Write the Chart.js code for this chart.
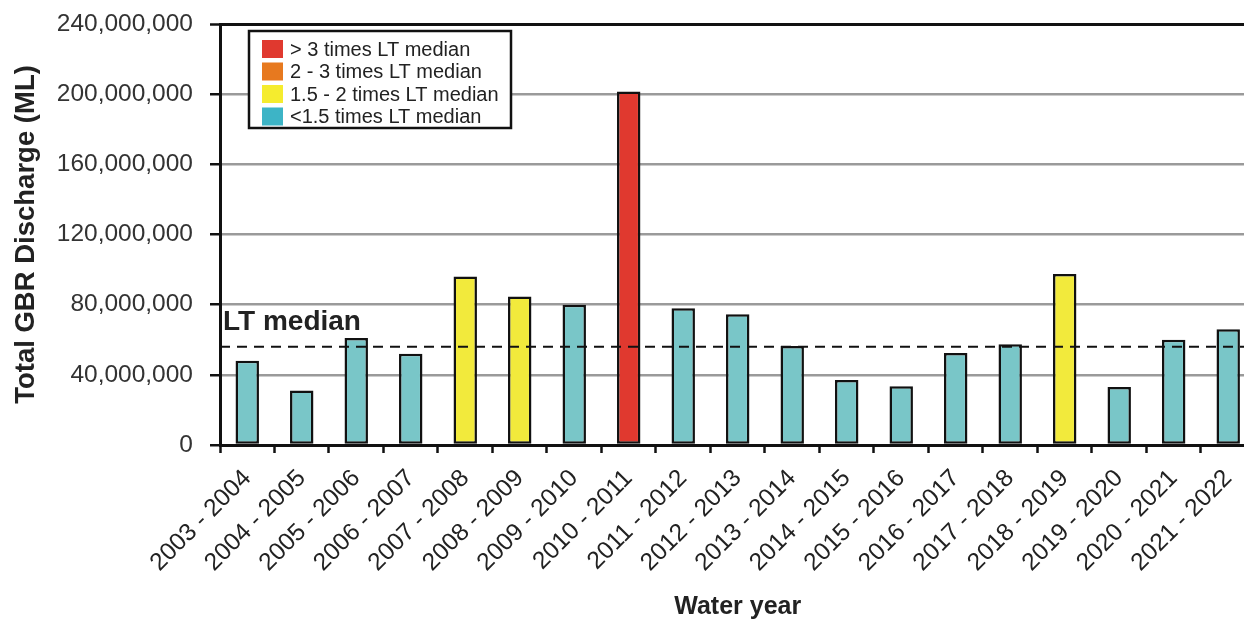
<!DOCTYPE html>
<html>
<head>
<meta charset="utf-8">
<title>Total GBR Discharge by Water Year</title>
<script src="https://cdn.jsdelivr.net/npm/chart.js"></script>
<style>
  body { margin: 0; overflow: hidden; background: #fff; }
  #wrap { width: 1260px; height: 624px; }
</style>
</head>
<body>
<div id="wrap"><canvas id="chart" width="1260" height="624"></canvas></div>
<script>
    const waterYears = ['2003 - 2004', '2004 - 2005', '2005 - 2006', '2006 - 2007', '2007 - 2008',
        '2008 - 2009', '2009 - 2010', '2010 - 2011', '2011 - 2012', '2012 - 2013', '2013 - 2014',
        '2014 - 2015', '2015 - 2016', '2016 - 2017', '2017 - 2018', '2018 - 2019', '2019 - 2020',
        '2020 - 2021', '2021 - 2022'];
    // total discharge in ML
    const discharge = [48000000, 31000000, 61000000, 52000000, 96000000, 84600000, 80000000,
        201500000, 78000000, 74500000, 56500000, 37000000, 33500000, 52500000, 57500000,
        97500000, 33000000, 60000000, 66000000];
    const ltMedian = 56000000;
    const yTicks = [0, 40000000, 80000000, 120000000, 160000000, 200000000, 240000000];
    const bandLabels = ['> 3 times LT median', '2 - 3 times LT median', '1.5 - 2 times LT median', '<1.5 times LT median'];

    const font = 'Liberation Sans, Arial, sans-serif';
    const swatchColours = ['#e0392f', '#e7791f', '#f5ec2e', '#3db4c6'];
    const barFill = ['#e0392f', '#e7791f', '#f2ea3c', '#79c6c8'];

    function band(v) {
        const r = v / ltMedian;
        if (r > 3) return 0;
        if (r > 2) return 1;
        if (r >= 1.5) return 2;
        return 3;
    }

    const extras = {
        id: 'extras',
        afterDraw(chart) {
            const ctx = chart.ctx;
            const area = chart.chartArea;
            const y = chart.scales.y.getPixelForValue(ltMedian);

            // LT median dashed line
            ctx.save();
            ctx.strokeStyle = '#111';
            ctx.lineWidth = 2;
            ctx.setLineDash([10, 7]);
            ctx.beginPath();
            ctx.moveTo(area.left, y);
            ctx.lineTo(area.right, y);
            ctx.stroke();
            ctx.setLineDash([]);

            ctx.fillStyle = '#222';
            ctx.font = 'bold 28px ' + font;
            ctx.textBaseline = 'alphabetic';
            ctx.fillText('LT median', area.left + 3, y - 17);

            // legend box
            const bx = area.left + 29, by = area.top + 7, bw = 262, bh = 97;
            ctx.fillStyle = '#fff';
            ctx.fillRect(bx, by, bw, bh);
            ctx.strokeStyle = '#111';
            ctx.lineWidth = 2.5;
            ctx.strokeRect(bx, by, bw, bh);
            ctx.font = '20px ' + font;
            ctx.textBaseline = 'middle';
            bandLabels.forEach((lab, i) => {
                const cy = by + 18 + i * 22.5;
                ctx.fillStyle = swatchColours[i];
                ctx.fillRect(bx + 13, cy - 9, 21, 18);
                ctx.fillStyle = '#222';
                ctx.fillText(lab, bx + 41, cy + 1);
            });
            ctx.restore();
        }
    };

    new Chart(document.getElementById('chart'), {
        type: 'bar',
        data: {
            labels: waterYears,
            datasets: [{
                data: discharge,
                backgroundColor: discharge.map(v => barFill[band(v)]),
                borderColor: '#111',
                borderWidth: 2.5,
                borderSkipped: false,
                barPercentage: 0.43,
                categoryPercentage: 1
            }]
        },
        options: {
            responsive: false,
            animation: false,
            devicePixelRatio: 1,
            layout: { padding: { top: 0, right: 0, left: 0, bottom: 0 } },
            plugins: { legend: { display: false }, tooltip: { enabled: false } },
            scales: {
                x: {
                    offset: true,
                    grid: { drawOnChartArea: false, offset: true, tickLength: 8, tickColor: '#111', tickWidth: 2.5 },
                    border: { color: '#111', width: 3 },
                    ticks: { autoSkip: false, minRotation: 45, maxRotation: 45, padding: 11,
                        font: { family: font, size: 24.5 }, color: '#222' },
                    title: { display: true, text: 'Water year', color: '#222',
                        font: { family: font, size: 25, weight: 'bold' }, padding: { top: 0, bottom: 2 } },
                    afterFit: s => { s.height = 179; }
                },
                y: {
                    min: 0,
                    max: 240000000,
                    afterBuildTicks: s => { s.ticks = yTicks.map(v => ({ value: v })); },
                    grid: {
                        color: c => c.tick && c.tick.value === 240000000 ? '#111' : '#9a9a9a',
                        lineWidth: c => c.tick && c.tick.value === 240000000 ? 3 : 2.5,
                        tickColor: '#111', tickLength: 10, tickWidth: 2.5
                    },
                    border: { color: '#111', width: 3 },
                    ticks: { padding: 17, color: '#333', font: { family: font, size: 24.5, lineHeight: '14px' },
                        callback: v => v.toLocaleString('en-US') },
                    title: { display: true, text: 'Total GBR Discharge (ML)', color: '#222',
                        font: { family: font, size: 27.5, weight: 'bold' }, padding: { top: 10, bottom: 0 } },
                    afterFit: s => { s.width = 220; }
                }
            }
        },
        plugins: [extras]
    });
</script>
</body>
</html>
